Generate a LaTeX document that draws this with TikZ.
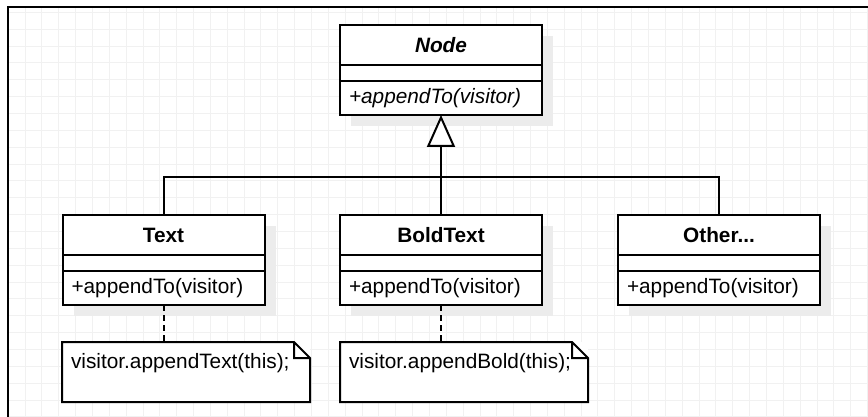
\documentclass[tikz,border=0pt]{standalone}
\usepackage{fontspec}
\setmainfont{Liberation Sans}
\usetikzlibrary{positioning,shadows,arrows.meta}
\definecolor{gridgray}{HTML}{F1F1F1}
\definecolor{shadowgray}{HTML}{ECECEC}
\tikzset{
  umlfont/.style={font=\fontsize{20.8}{25}\selectfont},
  classbox/.style={draw,line width=2pt,fill=white,minimum width=202pt,inner sep=0pt,outer sep=0pt,umlfont,
    drop shadow={shadow xshift=11pt,shadow yshift=-11pt,fill=shadowgray,opacity=1}},
  head/.style={classbox,minimum height=40pt},
  attr/.style={classbox,minimum height=16pt},
  meth/.style={classbox,minimum height=34pt,text width=184pt,inner xsep=9pt,align=left},
  notebox/.style={anchor=north west,fill=white,inner xsep=9pt,inner ysep=0pt,outer sep=0pt,
    text width=230pt,align=left,text height=26pt,text depth=34pt,umlfont},
  line/.style={line width=2pt},
  gen/.style={line,-{Triangle[length=32pt,width=28pt,fill=white]}},
  dep/.style={line,dash pattern=on 6pt off 4pt}
}
\begin{document}
\begin{tikzpicture}[x=1pt,y=-1pt]
  \useasboundingbox (0,0) rectangle (868,417);
  \fill[white] (0,0) rectangle (868,417);
  \foreach \i in {0,...,51} \draw[gridgray,line width=1pt] ({8.2+16.85*\i},7) -- ({8.2+16.85*\i},417);
  \foreach \j in {0,...,24} \draw[gridgray,line width=1pt] (8,{12.45+16.85*\j}) -- (868,{12.45+16.85*\j});
  \draw[line width=2.5pt] (8,417) -- (8,7) -- (868,7);
  % classes
  \node[head] (nodehead) at (441,45) {\textbf{\textit{Node}}};
  \node[attr,below=0pt of nodehead] (nodeattr) {};
  \node[meth,below=0pt of nodeattr] (nodemeth) {\textit{+appendTo(visitor)}};
  \node[head] (texthead) at (163.5,235) {\textbf{Text}};
  \node[attr,below=0pt of texthead] (textattr) {};
  \node[meth,below=0pt of textattr] (textmeth) {+appendTo(visitor)};
  \node[head] (boldhead) at (441,235) {\textbf{BoldText}};
  \node[attr,below=0pt of boldhead] (boldattr) {};
  \node[meth,below=0pt of boldattr] (boldmeth) {+appendTo(visitor)};
  \node[head] (otherhead) at (719,235) {\textbf{Other...}};
  \node[attr,below=0pt of otherhead] (otherattr) {};
  \node[meth,below=0pt of otherattr] (othermeth) {+appendTo(visitor)};
  % notes
  \node[notebox] (textnote) at (62,342) {visitor.appendText(this);};
  \node[notebox] (boldnote) at (340,342) {visitor.appendBold(this);};
  \foreach \n in {textnote,boldnote}
    \draw[line] (\n.north west) -- ([xshift=-16pt]\n.north east) -- ([yshift=-16pt]\n.north east) |- (\n.south west) -- cycle
      ([xshift=-16pt]\n.north east) |- ([yshift=-16pt]\n.north east);
  % connectors
  \coordinate (join) at (441,177);
  \draw[line] (texthead.north) |- (join) -| (otherhead.north);
  \draw[gen] (boldhead.north) -- (nodemeth.south);
  \draw[dep] (textmeth.south) -- (textmeth.south |- textnote.north);
  \draw[dep] (boldmeth.south) -- (boldmeth.south |- boldnote.north);
\end{tikzpicture}
\end{document}
